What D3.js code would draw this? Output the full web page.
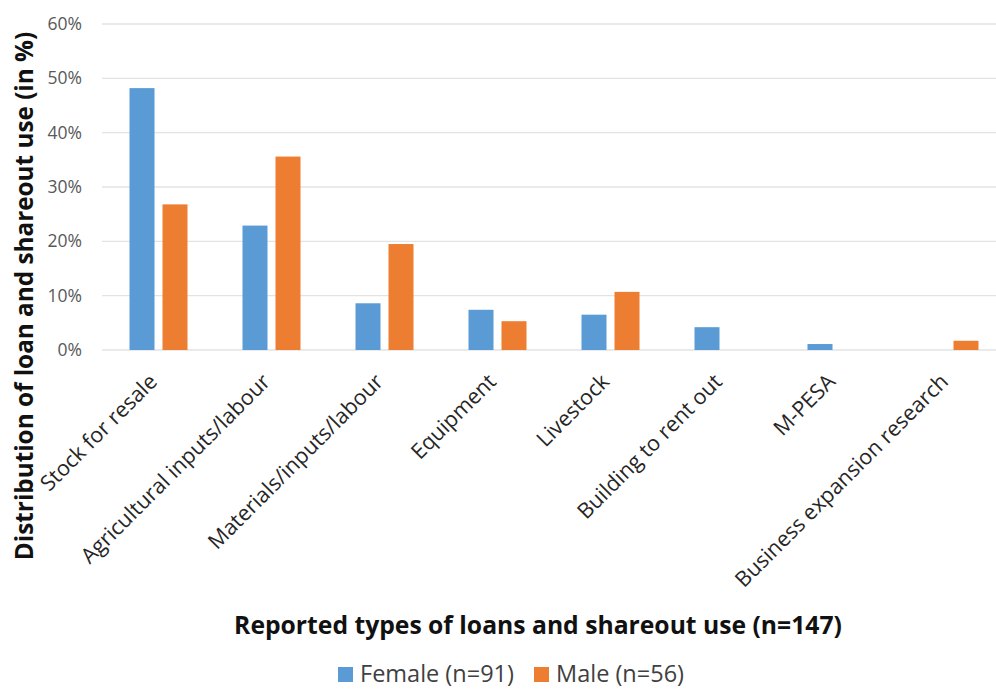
<!DOCTYPE html>
<meta charset="utf-8">
<script src="https://d3js.org/d3.v7.min.js"></script>
<style>
  body { margin: 0; background: #fff; }
  text { font-family: "Open Sans", sans-serif; }
</style>
<svg id="chart"></svg>
<script>

// categories and values (in %)
var categories = ["Stock for resale", "Agricultural inputs/labour", "Materials/inputs/labour",
  "Equipment", "Livestock", "Building to rent out", "M-PESA", "Business expansion research"];
var female = [48.2, 22.9, 8.6, 7.4, 6.5, 4.2, 1.1, 0];
var male = [26.8, 35.6, 19.5, 5.3, 10.7, 0, 0, 1.7];
var seriesNames = ["Female (n=91)", "Male (n=56)"];
var yTicks = [0, 10, 20, 30, 40, 50, 60];

var width = 996, height = 689;
var margin = { top: 24, left: 102, bottom: 339 };
var plotRight = 1006;

var svg = d3.select("#chart")
  .attr("width", width)
  .attr("height", height);

var x = d3.scaleBand()
  .domain(categories)
  .range([margin.left, plotRight]);

var y = d3.scaleLinear()
  .domain([0, 60])
  .range([height - margin.bottom, margin.top]);

var colors = ["#5b9bd5", "#ed7d31"];

// gridlines
svg.append("g")
  .selectAll("line")
  .data(yTicks)
  .enter().append("line")
    .attr("x1", margin.left)
    .attr("x2", plotRight)
    .attr("y1", function(d) { return y(d); })
    .attr("y2", function(d) { return y(d); })
    .attr("stroke", "#e3e3e3")
    .attr("stroke-width", 1.3);

// y axis labels
var yAxis = d3.axisLeft(y)
  .tickValues(yTicks)
  .tickSize(0)
  .tickPadding(20)
  .tickFormat(function(d) { return d + "%"; });

var gy = svg.append("g")
  .attr("transform", "translate(" + margin.left + ",0)")
  .call(yAxis);
gy.select(".domain").remove();
gy.selectAll("text")
  .attr("fill", "#595959")
  .style("font-size", "17.5px");

// bars
var barW = 25, gap = 8;
var groups = svg.append("g")
  .selectAll("g")
  .data(categories)
  .enter().append("g")
    .attr("transform", function(d) { return "translate(" + (x(d) + x.bandwidth() / 2) + ",0)"; });

[female, male].forEach(function(series, si) {
  groups.append("rect")
    .attr("x", si === 0 ? -gap / 2 - barW : gap / 2)
    .attr("width", barW)
    .attr("y", function(d, i) { return y(series[i]); })
    .attr("height", function(d, i) { return y(0) - y(series[i]); })
    .attr("fill", colors[si]);
});

// x category labels
svg.append("g")
  .selectAll("text")
  .data(categories)
  .enter().append("text")
    .attr("transform", function(d) {
      return "translate(" + (x(d) + x.bandwidth() / 2) + "," + (y(0) + 33) + ") rotate(-45)";
    })
    .attr("text-anchor", "end")
    .attr("fill", "#262626")
    .style("font-size", "21.5px")
    .text(function(d) { return d; });

// axis titles
svg.append("text")
  .attr("transform", "translate(33,296) rotate(-90)")
  .attr("text-anchor", "middle")
  .attr("fill", "#111")
  .style("font-size", "24.3px")
  .style("font-weight", "bold")
  .text("Distribution of loan and shareout use (in %)");

svg.append("text")
  .attr("x", 538)
  .attr("y", 634)
  .attr("text-anchor", "middle")
  .attr("fill", "#111")
  .style("font-size", "24.7px")
  .style("font-weight", "bold")
  .text("Reported types of loans and shareout use (n=147)");

// legend
var legendX = [338, 534];
var legend = svg.append("g")
  .selectAll("g")
  .data(seriesNames)
  .enter().append("g")
    .attr("transform", function(d, i) { return "translate(" + legendX[i] + ",667)"; });
legend.append("rect")
  .attr("width", 15)
  .attr("height", 15)
  .attr("fill", function(d, i) { return colors[i]; });
legend.append("text")
  .attr("x", 22)
  .attr("y", 15)
  .attr("fill", "#404040")
  .style("font-size", "23.5px")
  .text(function(d) { return d; });

</script>
